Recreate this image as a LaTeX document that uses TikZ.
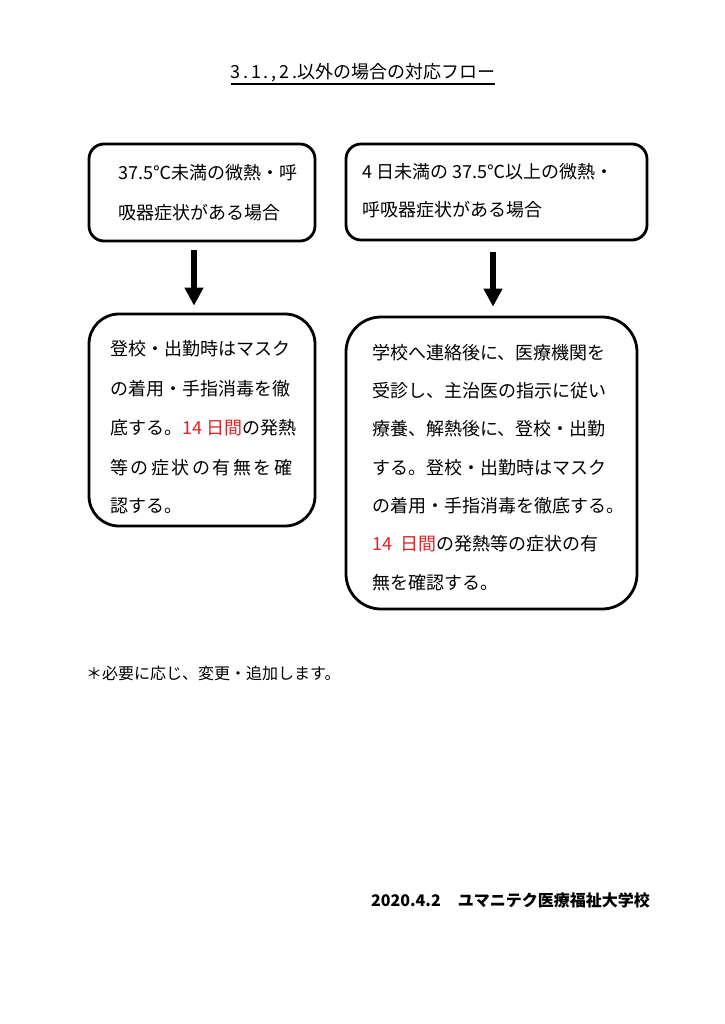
\documentclass[tikz,border=0pt]{standalone}
\usepackage{fontspec}
\setmainfont{Noto Sans CJK JP}
\usetikzlibrary{arrows.meta}
\definecolor{jred}{RGB}{222,35,35}
\begin{document}
\begin{tikzpicture}[x=1pt,y=-1pt,
  box/.style={draw, line width=2.8pt, rounded corners=#1, inner sep=0pt},
  txt/.style={anchor=base west, inner sep=0pt, font=\fontsize{18pt}{18pt}\selectfont},
  bigarrow/.style={line width=6pt, -{Triangle[length=18pt,width=18pt]}}]
\fill[white,use as bounding box] (0,0) rectangle (724,1024);

% title
\node[anchor=base, inner sep=0pt, font=\fontsize{18pt}{18pt}\selectfont] (title) at (363,79) {{\addfontfeature{LetterSpace=15}3.1.,2.}以外の場合の対応フロー};
\draw[line width=1.6pt] ([yshift=-5pt]title.base west) -- ([yshift=-5pt]title.base east);

% boxes
\node[box=15pt, minimum width=226pt, minimum height=97pt] (tl) at (202,192.5) {};
\node[box=15pt, minimum width=301pt, minimum height=96pt] (tr) at (496.5,192) {};
\node[box=30pt, minimum width=226pt, minimum height=212pt] (bl) at (202,420) {};
\node[box=35pt, minimum width=291pt, minimum height=292pt] (br) at (491.5,463) {};

% arrows
\coordinate (a1) at (194,0);
\coordinate (a2) at (493,0);
\draw[bigarrow] ([yshift=-8pt]tl.south -| a1) -- ([yshift=7pt]bl.north -| a1);
\draw[bigarrow] ([yshift=-11pt]tr.south -| a2) -- ([yshift=9pt]br.north -| a2);

% top left text
\node[txt] (tl1) at (118,180) {37.5℃未満の微熱・呼};
\node[txt] (tl2) at (118,219) {吸器症状がある場合};

% top right text
\node[txt] (tr1) at (362,179) {4 日未満の 37.5℃以上の微熱・};
\node[txt] (tr2) at (362,217) {呼吸器症状がある場合};

% bottom left text
\node[txt] (bl1) at (110,355) {登校・出勤時はマスク};
\node[txt] (bl2) at (110,395) {の着用・手指消毒を徹};
\node[txt] (bl3) at (110,434) {底する。\textcolor{jred}{14 日間}の発熱};
\node[txt] (bl4) at (110,474) {\addfontfeature{LetterSpace=14}等の症状の有無を確};
\node[txt] (bl5) at (110,512) {認する。};

% bottom right text
\begin{scope}[every node/.append style={font=\fontsize{18pt}{18pt}\selectfont\addfontfeature{LetterSpace=7}}]
\node[txt] (br1) at (372,359) {学校へ連絡後に、医療機関を};
\node[txt] (br2) at (372,397) {受診し、主治医の指示に従い};
\node[txt] (br3) at (372,435) {療養、解熱後に、登校・出勤};
\node[txt] (br4) at (372,474) {する。登校・出勤時はマスク};
\node[txt] (br5) at (372,512) {の着用・手指消毒を徹底する。};
\node[txt] (br6) at (372,550) {\textcolor{jred}{14\ \ 日間}の発熱等の症状の有};
\node[txt] (br7) at (372,589) {無を確認する。};
\end{scope}

% footnote
\node[anchor=base west, inner sep=0pt, font=\fontsize{16pt}{16pt}\selectfont] (note) at (86,679) {＊必要に応じ、変更・追加します。};

% signature
\node[anchor=base east, inner sep=0pt, font=\fontsize{16pt}{16pt}\selectfont\bfseries] (sig) at (650,906) {2020.4.2\hspace{17pt}ユマニテク医療福祉大学校};
\end{tikzpicture}
\end{document}
